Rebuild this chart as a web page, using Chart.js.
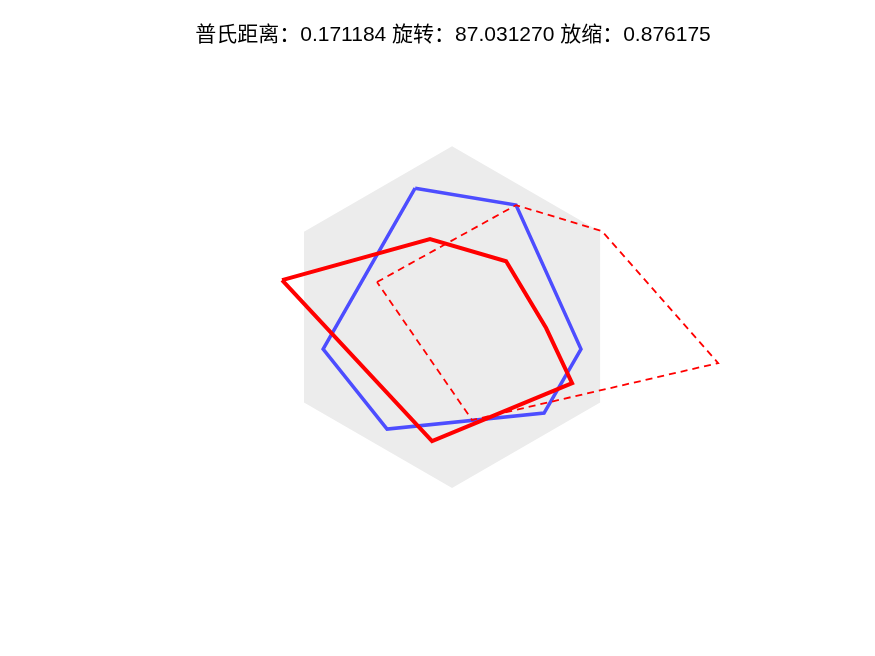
<!DOCTYPE html>
<html>
<head>
<meta charset="utf-8">
<script src="https://cdn.jsdelivr.net/npm/chart.js@4"></script>
<style>
  html, body { margin: 0; padding: 0; background: #ffffff; }
  #wrap { width: 875px; height: 656px; }
</style>
</head>
<body>
<div id="wrap"><canvas id="c" width="875" height="656"></canvas></div>
<script>
const titleText = "普氏距离：0.171184 旋转：87.031270 放缩：0.876175";

// Background hexagon (grey region)
const hexX = [0, -0.866, -0.866, 0, 0.866, 0.866];
const hexY = [1, 0.5, -0.5, -1, -0.5, 0.5];

// Blue shape
const blueX = [-0.216, 0.374, 0.754, 0.538, -0.380, -0.754];
const blueY = [0.754, 0.655, -0.187, -0.561, -0.655, -0.187];

// Red solid shape (transformed)
const redX = [-0.994, -0.129, 0.316, 0.550, 0.702, -0.117];
const redY = [0.216, 0.456, 0.327, -0.064, -0.386, -0.725];

// Red dashed shape (original)
const dashX = [-0.439, 0.374, 0.877, 1.556, 0.117];
const dashY = [0.205, 0.655, 0.503, -0.269, -0.602];

function closed(xs, ys) {
  const pts = xs.map((x, i) => ({ x: x, y: ys[i] }));
  pts.push({ x: xs[0], y: ys[0] });
  return pts;
}

new Chart(document.getElementById('c'), {
  type: 'scatter',
  data: {
    datasets: [
      {
        data: closed(hexX, hexY),
        showLine: true,
        fill: 'shape',
        backgroundColor: '#ececec',
        borderColor: 'rgba(0,0,0,0)',
        borderWidth: 0,
        pointRadius: 0,
        order: 4
      },
      {
        data: closed(blueX, blueY),
        showLine: true,
        fill: false,
        borderColor: '#4d4dff',
        borderWidth: 3.5,
        pointRadius: 0,
        order: 3
      },
      {
        data: closed(dashX, dashY),
        showLine: true,
        fill: false,
        borderColor: '#ff0000',
        borderWidth: 1.8,
        borderDash: [7, 5],
        pointRadius: 0,
        order: 2
      },
      {
        data: closed(redX, redY),
        showLine: true,
        fill: false,
        borderColor: '#ff0000',
        borderWidth: 4,
        pointRadius: 0,
        order: 1
      }
    ]
  },
  options: {
    responsive: false,
    animation: false,
    elements: { line: { tension: 0, borderJoinStyle: 'miter', borderCapStyle: 'butt' } },
    layout: { padding: { left: 114, right: 83, top: 10, bottom: 72 } },
    plugins: {
      legend: { display: false },
      tooltip: { enabled: false },
      title: {
        display: true,
        text: titleText,
        color: '#000000',
        font: { family: "'Liberation Sans', Arial, 'Noto Sans CJK SC', sans-serif", size: 21, weight: 'normal', lineHeight: 1.2 },
        padding: { top: 13, bottom: 1 }
      }
    },
    scales: {
      x: { type: 'linear', display: false, min: -1.977, max: 1.988 },
      y: { type: 'linear', display: false, min: -1.561, max: 1.567 }
    }
  }
});
</script>
</body>
</html>
